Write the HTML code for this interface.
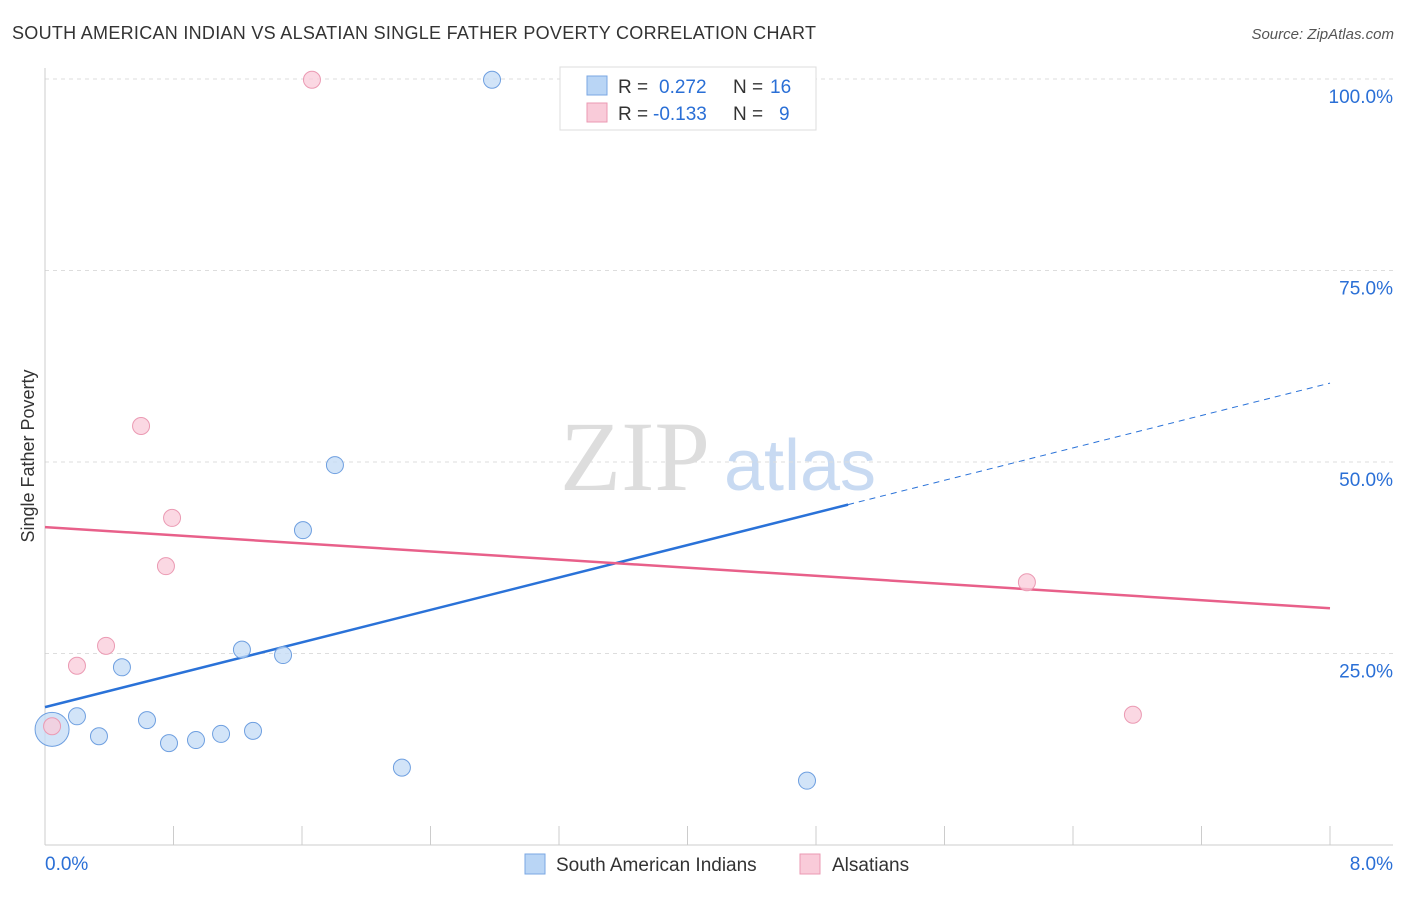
<!DOCTYPE html>
<html><head><meta charset="utf-8">
<style>
body{margin:0;background:#fff;font-family:"Liberation Sans",sans-serif;}
svg text{font-family:"Liberation Sans",sans-serif;}
svg text.serif{font-family:"Liberation Serif",serif;}
</style></head>
<body>
<svg id="chart" width="1406" height="892" xmlns="http://www.w3.org/2000/svg">
<text x="12" y="39" font-size="18" fill="#333" textLength="804">SOUTH AMERICAN INDIAN VS ALSATIAN SINGLE FATHER POVERTY CORRELATION CHART</text>
<text x="1394" y="39" font-size="15" fill="#555" text-anchor="end" font-style="italic">Source: ZipAtlas.com</text>
<text x="34" y="456" font-size="18" fill="#333" text-anchor="middle" transform="rotate(-90 34 456)">Single Father Poverty</text>
<g>
<text class="serif" x="635" y="490" font-size="100" fill="#ddd" text-anchor="middle">ZIP</text>
<text x="800" y="490" font-size="72" fill="#c8daf2" text-anchor="middle">atlas</text>
</g>
<g id="grid"></g>
<g id="axes"></g>
<g id="trends"></g>
<g id="points"></g>
<g>
<rect x="560" y="67" width="256" height="63" fill="#fff" stroke="#ddd"/>
<rect x="587" y="76" width="20" height="19" fill="#b9d5f5" stroke="#7aa7e3"/>
<text x="618" y="93" font-size="19" fill="#333">R =</text>
<text x="659" y="93" font-size="19" fill="#2a6fd6">0.272</text>
<text x="733" y="93" font-size="19" fill="#333">N =</text>
<text x="770" y="93" font-size="19" fill="#2a6fd6">16</text>
<rect x="587" y="103" width="20" height="19" fill="#f9cbd9" stroke="#eb9ab3"/>
<text x="618" y="120" font-size="19" fill="#333">R =</text>
<text x="653" y="120" font-size="19" fill="#2a6fd6">-0.133</text>
<text x="733" y="120" font-size="19" fill="#333">N =</text>
<text x="779" y="120" font-size="19" fill="#2a6fd6">9</text>
</g>
<g>
<rect x="525" y="854" width="20" height="20" fill="#b9d5f5" stroke="#7aa7e3"/>
<text x="556" y="871" font-size="19" fill="#333">South American Indians</text>
<rect x="800" y="854" width="20" height="20" fill="#f9cbd9" stroke="#eb9ab3"/>
<text x="832" y="871" font-size="19" fill="#333">Alsatians</text>
</g>
</svg>
<script>
const blueX=[0.044,0.199,0.336,0.635,0.479,0.772,0.940,1.096,1.295,1.226,1.482,1.606,1.805,2.222,2.783,4.744];
const blueY=[15.1,16.8,14.2,16.3,23.2,13.3,13.7,14.5,14.9,25.5,24.8,41.1,49.6,10.1,99.9,8.4];
const pinkX=[0.044,0.199,0.380,0.598,0.791,0.753,1.662,6.113,6.773];
const pinkY=[15.5,23.4,26.0,54.7,42.7,36.4,99.9,34.3,17.0];
const blueTrend=[18.0,60.3];
const pinkTrend=[41.5,30.9];
const yTicks=[25,50,75,100];
const yTickLabels=["25.0%","50.0%","75.0%","100.0%"];
const xTicks=[0,0.8,1.6,2.4,3.2,4,4.8,5.6,6.4,7.2,8];
const NS="http://www.w3.org/2000/svg";
const sx=v=>45+v/8*1285;
const sy=v=>845-v*7.66;
function mk(tag,attrs,parent){const e=document.createElementNS(NS,tag);for(const k in attrs)e.setAttribute(k,attrs[k]);document.getElementById(parent).appendChild(e);return e;}
yTicks.forEach((t,i)=>{
 const l=mk('line',{x1:45,x2:1393,y1:sy(t),y2:sy(t),stroke:'#ddd','stroke-dasharray':'4,4'},'grid');
 
 
 const tx=mk('text',{x:1393,y:sy(t)+24,'font-size':19,fill:'#2a6fd6','text-anchor':'end'},'grid');
 tx.textContent=yTickLabels[i];
 
 
});
let a=mk('line',{x1:45,x2:45,y1:68,y2:845,stroke:'#ccc'},'axes');


a=mk('line',{x1:45,x2:1393,y1:845,y2:845,stroke:'#ccc'},'axes');


xTicks.forEach(t=>{
 const l=mk('line',{x1:sx(t),x2:sx(t),y1:826,y2:845,stroke:'#ccc'},'axes');
 
 
});
let t=mk('text',{x:45,y:870,'font-size':19,fill:'#2a6fd6'},'axes');t.textContent=xTicks[0].toFixed(1)+'%';


t=mk('text',{x:1393,y:870,'font-size':19,fill:'#2a6fd6','text-anchor':'end'},'axes');t.textContent=xTicks[xTicks.length-1].toFixed(1)+'%';


const bAt=x=>blueTrend[0]+(blueTrend[1]-blueTrend[0])*x/8;
const pAt=x=>pinkTrend[0]+(pinkTrend[1]-pinkTrend[0])*x/8;
let tl=mk('line',{x1:sx(0),y1:sy(bAt(0)),x2:sx(5),y2:sy(bAt(5)),stroke:'#2a72d8','stroke-width':2.5},'trends');


tl=mk('line',{x1:sx(5),y1:sy(bAt(5)),x2:sx(8),y2:sy(bAt(8)),stroke:'#2a72d8','stroke-width':1,'stroke-dasharray':'6,5'},'trends');


tl=mk('line',{x1:sx(0),y1:sy(pAt(0)),x2:sx(8),y2:sy(pAt(8)),stroke:'#e8608a','stroke-width':2.5},'trends');


blueX.forEach((x,i)=>{
 const c=mk('circle',{cx:sx(x),cy:sy(blueY[i]),r:i===0?17:8.5,fill:'#c3dbf6','fill-opacity':0.75,stroke:'#6e9fe0','stroke-width':1},'points');
 
 
});
pinkX.forEach((x,i)=>{
 const c=mk('circle',{cx:sx(x),cy:sy(pinkY[i]),r:8.5,fill:'#f9cbd9','fill-opacity':0.75,stroke:'#eb9ab3','stroke-width':1},'points');
 
 
});
</script>
</body></html>
